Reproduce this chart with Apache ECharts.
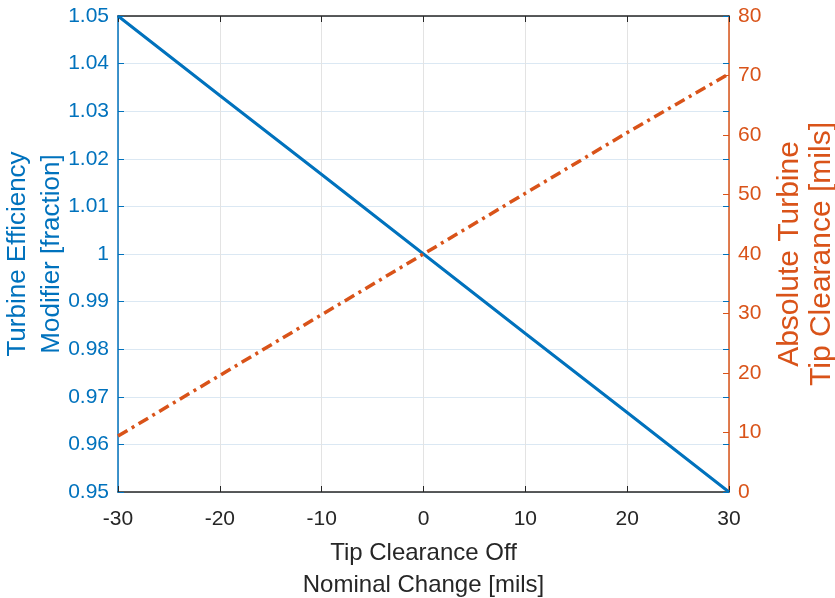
<!DOCTYPE html>
<html>
<head>
<meta charset="utf-8">
<script src="https://cdn.jsdelivr.net/npm/echarts@6/dist/echarts.min.js"></script>
<style>html,body{margin:0;padding:0;background:#fff}#c{width:835px;height:598px}</style>
</head>
<body>
<div id="c"></div>
<script>
const clearanceChange = [-30, -20, -10, 0, 10, 20, 30];
const efficiencyModifier = [1.05, 1.0333, 1.0167, 1.0, 0.9833, 0.9667, 0.95];
const absoluteClearance = [9.4, 19.6, 29.8, 40, 50.2, 60.4, 70.3];

const xTitle = 'Tip Clearance Off\nNominal Change [mils]';
const leftTitle = 'Turbine Efficiency\nModifier [fraction]';
const rightTitle = 'Absolute Turbine\nTip Clearance [mils]';

const BLUE = '#0072BD';
const ORANGE = '#D95319';
const DARK = '#262626';
const FONT = 'Liberation Sans';

const chart = echarts.init(document.getElementById('c'), null, {renderer: 'canvas'});
chart.setOption({
  animation: false,
  textStyle: {fontFamily: FONT},
  grid: {left: 118, right: 106, top: 16, bottom: 106, containLabel: false, outerBoundsMode: 'none'},
  xAxis: [{
    type: 'value', min: -30, max: 30, interval: 10, position: 'bottom',
    name: xTitle, nameLocation: 'middle', nameGap: 45, nameMoveOverlap: false,
    nameTextStyle: {color: DARK, fontSize: 24, lineHeight: 32, fontFamily: FONT},
    axisLine: {onZero: false, lineStyle: {color: DARK, width: 1.5}},
    axisTick: {inside: true, length: 6, lineStyle: {color: DARK}},
    axisLabel: {color: DARK, fontSize: 21, margin: 17, fontFamily: FONT},
    splitLine: {show: true, lineStyle: {color: '#e3e3e3', width: 1}}
  }, {
    type: 'value', min: -30, max: 30, interval: 10, position: 'top',
    axisLine: {onZero: false, lineStyle: {color: DARK, width: 1.5}},
    axisTick: {inside: true, length: 6, lineStyle: {color: DARK}},
    axisLabel: {show: false},
    splitLine: {show: false}
  }],
  yAxis: [{
    type: 'value', min: 0.95, max: 1.05, interval: 0.01, position: 'left',
    name: leftTitle, nameLocation: 'middle', nameRotate: 90, nameGap: 49, nameMoveOverlap: false,
    nameTextStyle: {color: BLUE, fontSize: 26, lineHeight: 34, fontFamily: FONT},
    axisLine: {show: true, onZero: false, lineStyle: {color: BLUE, width: 1.5}},
    axisTick: {show: true, inside: true, length: 6, lineStyle: {color: BLUE}},
    axisLabel: {color: BLUE, fontSize: 21, margin: 9, fontFamily: FONT,
      formatter: v => String(parseFloat(v.toFixed(2)))},
    splitLine: {show: true, lineStyle: {color: '#dbe8f3', width: 1}}
  }, {
    type: 'value', min: 0, max: 80, interval: 10, position: 'right',
    name: rightTitle, nameLocation: 'middle', nameRotate: 90, nameGap: 45, nameMoveOverlap: false,
    nameTextStyle: {color: ORANGE, fontSize: 30, lineHeight: 32, fontFamily: FONT},
    axisLine: {show: true, onZero: false, lineStyle: {color: ORANGE, width: 1.5}},
    axisTick: {show: true, inside: true, length: 6, lineStyle: {color: ORANGE}},
    axisLabel: {color: ORANGE, fontSize: 21, margin: 9, fontFamily: FONT},
    splitLine: {show: false}
  }, {
    type: 'value', min: 0.95, max: 1.05, interval: 0.01, position: 'right',
    axisLine: {show: false, onZero: false},
    axisTick: {show: true, inside: true, length: 6, lineStyle: {color: BLUE}},
    axisLabel: {show: false},
    splitLine: {show: false}
  }],
  series: [{
    type: 'line', xAxisIndex: 0, yAxisIndex: 0,
    data: clearanceChange.map((x, i) => [x, efficiencyModifier[i]]),
    showSymbol: false, lineStyle: {color: BLUE, width: 3}, z: 3
  }, {
    type: 'line', xAxisIndex: 0, yAxisIndex: 1,
    data: clearanceChange.map((x, i) => [x, absoluteClearance[i]]),
    showSymbol: false, lineStyle: {color: ORANGE, width: 3.5, type: [11, 5, 3, 5]}, z: 4
  }]
});
</script>
</body>
</html>
